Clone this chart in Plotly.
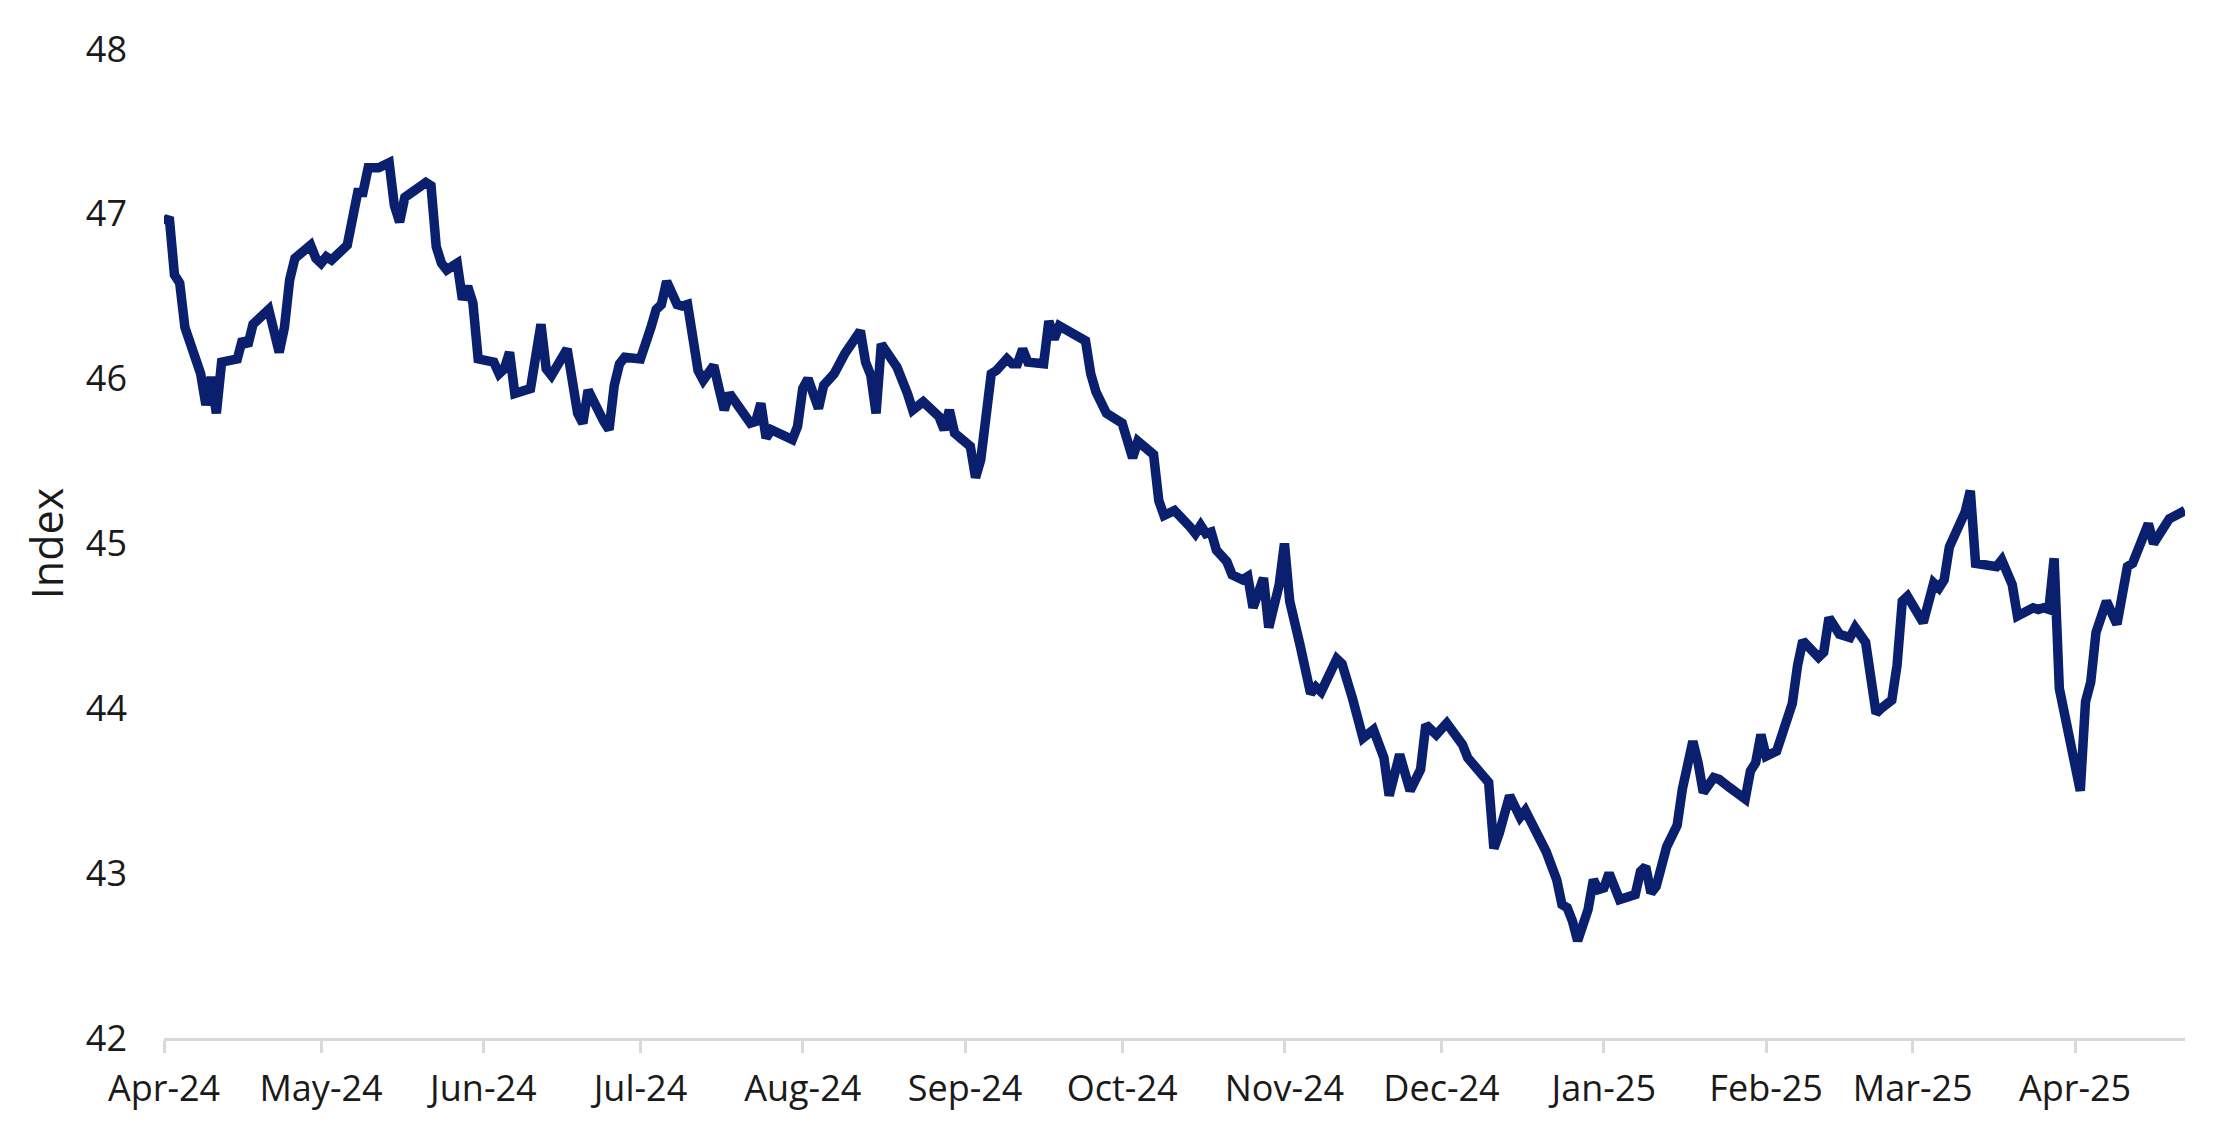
import pandas as pd
import plotly.graph_objects as go

# days after 1 Apr 2024
days_since_start = [
    0, 1, 2, 3, 4, 7, 8, 9, 10, 11, 14, 15, 16, 17, 20, 22, 23, 24, 25, 28,
    29, 30, 31, 32, 35, 36, 37, 38, 39, 41, 43, 44, 45, 46, 50, 51, 52, 53, 54, 56,
    57, 58, 59, 60, 63, 64, 65, 66, 67, 70, 71, 72, 73, 74, 77, 78, 79, 80, 81, 84,
    85, 86, 87, 88, 91, 93, 94, 95, 96, 98, 99, 100, 101, 102, 103, 105, 106, 107, 108, 112,
    113, 114, 115, 116, 120, 121, 122, 123, 125, 126, 128, 130, 133, 134, 135, 136, 137, 140, 142, 143,
    145, 148, 149, 150, 151, 154, 155, 156, 158, 159, 161, 162, 163, 164, 165, 168, 169, 170, 171, 176,
    177, 178, 180, 183, 185, 186, 189, 190, 191, 193, 196, 197, 198, 199, 200, 201, 203, 204, 206, 207,
    208, 210, 211, 213, 214, 215, 217, 219, 220, 221, 224, 225, 227, 228, 229, 231, 233, 234, 236, 238,
    240, 241, 243, 245, 246, 248, 249, 253, 254, 255, 257, 259, 260, 261, 262, 264, 266, 267, 268, 269,
    270, 272, 273, 274, 275, 276, 278, 281, 282, 283, 284, 285, 287, 289, 290, 291, 292, 293, 294, 296,
    297, 299, 302, 303, 304, 305, 306, 308, 309, 311, 312, 313, 316, 317, 318, 320, 322, 323, 325, 326,
    327, 328, 330, 331, 332, 333, 336, 338, 339, 340, 341, 344, 345, 346, 350, 351, 352, 353, 354, 357,
    358, 359, 360, 361, 362, 364, 366, 367, 368, 369, 371, 373, 374, 375, 376, 378, 379, 380, 382, 383,
    386,
]

index_values = [
    46.94, 46.98, 46.63, 46.58, 46.31, 46.03, 45.84, 46.01, 45.79, 46.10, 46.12, 46.24, 46.20, 46.33, 46.42, 46.16, 46.31, 46.60, 46.73, 46.81,
    46.73, 46.70, 46.74, 46.72, 46.81, 46.94, 47.13, 47.13, 47.28, 47.28, 47.31, 47.05, 46.95, 47.10, 47.19, 47.17, 46.80, 46.70, 46.66, 46.70,
    46.48, 46.56, 46.46, 46.12, 46.10, 46.03, 46.06, 46.16, 45.91, 45.94, 46.18, 46.33, 46.06, 46.02, 46.18, 45.98, 45.79, 45.73, 45.93, 45.74,
    45.69, 45.96, 46.09, 46.13, 46.12, 46.31, 46.42, 46.45, 46.59, 46.45, 46.44, 46.45, 46.27, 46.05, 45.99, 46.08, 45.94, 45.81, 45.91, 45.73,
    45.74, 45.85, 45.64, 45.69, 45.63, 45.71, 45.94, 46.00, 45.82, 45.96, 46.03, 46.15, 46.29, 46.10, 46.02, 45.79, 46.21, 46.07, 45.91, 45.81,
    45.86, 45.77, 45.69, 45.81, 45.67, 45.59, 45.40, 45.51, 46.03, 46.05, 46.12, 46.09, 46.09, 46.18, 46.10, 46.09, 46.35, 46.24, 46.32, 46.23,
    46.03, 45.92, 45.79, 45.73, 45.52, 45.62, 45.54, 45.26, 45.17, 45.20, 45.10, 45.06, 45.11, 45.06, 45.07, 44.96, 44.89, 44.81, 44.78, 44.80,
    44.61, 44.79, 44.49, 44.75, 45.00, 44.65, 44.38, 44.09, 44.13, 44.10, 44.30, 44.27, 44.06, 43.93, 43.82, 43.87, 43.70, 43.47, 43.72, 43.50,
    43.63, 43.90, 43.84, 43.91, 43.86, 43.78, 43.70, 43.55, 43.15, 43.24, 43.47, 43.34, 43.38, 43.32, 43.28, 43.13, 42.96, 42.81, 42.79, 42.71,
    42.59, 42.78, 42.96, 42.90, 42.91, 43.00, 42.84, 42.87, 43.01, 43.04, 42.88, 42.92, 43.16, 43.29, 43.51, 43.63, 43.80, 43.67, 43.49, 43.58,
    43.57, 43.52, 43.45, 43.62, 43.67, 43.84, 43.71, 43.74, 43.85, 44.03, 44.26, 44.41, 44.31, 44.34, 44.55, 44.45, 44.43, 44.49, 44.40, 44.19,
    43.97, 44.00, 44.05, 44.26, 44.65, 44.68, 44.52, 44.76, 44.73, 44.78, 44.98, 45.19, 45.32, 44.88, 44.86, 44.90, 44.84, 44.75, 44.56, 44.61,
    44.60, 44.61, 44.60, 44.91, 44.12, 43.82, 43.50, 44.04, 44.16, 44.46, 44.65, 44.51, 44.66, 44.86, 44.88, 45.02, 45.12, 45.00, 45.11, 45.15,
    45.20,
]

dates = pd.Timestamp("2024-04-01") + pd.to_timedelta(days_since_start, unit="D")

font = dict(family="Open Sans, sans-serif", size=36, color="#1a1a1a")

fig = go.Figure()
fig.add_trace(go.Scatter(x=dates, y=index_values, mode="lines",
                         line=dict(color="#0a1f6e", width=9.5),
                         showlegend=False))

# page body adds an 8px offset, so margins are shifted by that amount
fig.update_layout(
    width=2236, height=1144,
    margin=dict(l=156, r=59, t=41, b=114),
    paper_bgcolor="white", plot_bgcolor="white",
    font=font,
    xaxis=dict(type="date", range=["2024-04-01", "2025-04-22"],
               tick0="2024-04-01", dtick="M1", tickformat="%b-%y",
               showgrid=False, zeroline=False, automargin=False,
               showline=True, linecolor="#d9d9d9", linewidth=3,
               ticks="outside", ticklen=12, tickwidth=3, tickcolor="#d9d9d9",
               ticklabelstandoff=5),
    yaxis=dict(range=[42, 48], dtick=1, showgrid=False, zeroline=False,
               showline=False, ticks="", ticklabelstandoff=36, automargin=False,
               title=dict(text="Index", standoff=8)),
)

fig.write_html("out.html")
